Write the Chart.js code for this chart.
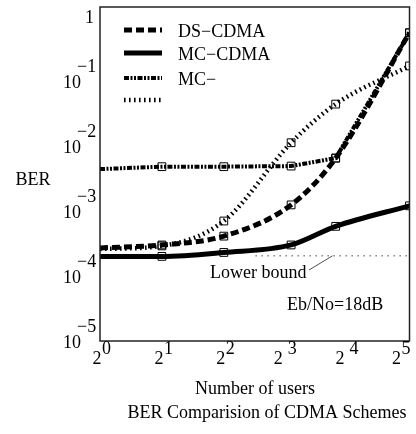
<!DOCTYPE html>
<html>
<head>
<meta charset="utf-8">
<script src="https://cdn.jsdelivr.net/npm/chart.js@4.4.1/dist/chart.umd.min.js"></script>
<style>
  html, body { margin: 0; padding: 0; background: #fff; }
  #wrap { width: 416px; height: 434px; position: relative; }
</style>
</head>
<body>
<div id="wrap"><canvas id="berChart"></canvas></div>
<script>
// --- Chart data ---
const users = [1, 2, 4, 8.5, 14, 32];
const dsCdma = [2.7e-4, 3.0e-4, 4.1e-4, 1.24e-3, 6.5e-3, 0.55];
const mcCdma = [2.0e-4, 2.0e-4, 2.3e-4, 3.0e-4, 5.8e-4, 1.2e-3];
const mcOther = [4.4e-3, 4.8e-3, 4.8e-3, 4.9e-3, 6.5e-3, 0.55];
const dotted = [2.6e-4, 2.9e-4, 7.0e-4, 1.12e-2, 4.4e-2, 0.17];
const lowerBoundUsers = [5.7, 32];
const lowerBound = [2.04e-4, 2.04e-4];
const seriesNames = ['DS−CDMA', 'MC−CDMA', 'MC−', ''];

const xTickValues = [1, 2, 4, 8, 16, 32];
const xTickBase = ['2', '2', '2', '2 ', '2 ', '2'];
const xTickExp = ['0', '1', '2', '3', '4', '5'];
const yTickValues = [1e-5, 1e-4, 1e-3, 1e-2, 1e-1, 1];
const yTickBase = ['10', '10', '10', '10', '10', '1'];
const yTickExp = ['−5', '−4', '−3', '−2', '−1', ''];

const FONT = '18px "Liberation Serif", "Times New Roman", serif';

function toPoints(xs, ys) {
    return xs.map((x, i) => ({ x, y: ys[i] }));
}

// open square markers on every point except the first
const markers = {
    pointStyle: 'rect',
    pointRadius: [0, 5.5, 5.5, 5.5, 5.5, 5.5],
    pointBorderWidth: 1,
    pointBorderColor: '#000',
    pointBackgroundColor: 'rgba(0,0,0,0)'
};

// frame, tick labels, legend and annotations
const frameAndText = {
    id: 'frameAndText',
    afterDatasetsDraw(chart) {
        const { ctx, chartArea: a, scales: { x, y } } = chart;
        ctx.save();
        ctx.strokeStyle = '#222';
        ctx.lineWidth = 1.5;
        ctx.strokeRect(a.left, a.top, a.right - a.left, a.bottom - a.top);

        ctx.fillStyle = '#000';
        ctx.font = FONT;
        ctx.textBaseline = 'middle';

        // y tick labels: 10 with superscript exponent
        yTickValues.forEach((v, i) => {
            const py = y.getPixelForValue(v);
            ctx.textAlign = 'right';
            if (yTickExp[i]) {
                ctx.fillText(yTickBase[i], 81, py + 2);
                ctx.textAlign = 'left';
                ctx.fillText(yTickExp[i], 77, py - 14);
            } else {
                ctx.fillText(yTickBase[i], 94, py + 2);
            }
        });

        // x tick labels: 2 with superscript exponent, kept inside the canvas
        xTickValues.forEach((v, i) => {
            let px = x.getPixelForValue(v);
            const expEnd = px + 2 + ctx.measureText(xTickExp[i]).width;
            if (expEnd > a.right + 1) px -= expEnd - (a.right + 1);
            ctx.textAlign = 'right';
            ctx.fillText(xTickBase[i], px + 1.5, 359);
            ctx.textAlign = 'left';
            ctx.fillText(xTickExp[i], px + 2, 349);
        });

        // legend inside the plot
        const rows = [30, 53, 78, 100];
        seriesNames.forEach((name, i) => {
            const ds = chart.data.datasets[i];
            ctx.save();
            ctx.strokeStyle = ds.borderColor;
            ctx.lineWidth = ds.borderWidth;
            ctx.setLineDash(ds.borderDash || []);
            ctx.beginPath();
            ctx.moveTo(124, rows[i]);
            ctx.lineTo(162, rows[i]);
            ctx.stroke();
            ctx.restore();
            ctx.textAlign = 'left';
            ctx.fillText(name, 178, rows[i] + 2);
        });

        // lower bound annotation
        ctx.textAlign = 'left';
        ctx.fillText('Lower bound', 210, 273);
        ctx.lineWidth = 0.8;
        ctx.beginPath();
        ctx.moveTo(309, 270);
        ctx.lineTo(x.getPixelForValue(13.5), y.getPixelForValue(lowerBound[0]));
        ctx.stroke();
        ctx.fillText('Eb/No=18dB', 287, 305);

        // axis titles
        ctx.textAlign = 'center';
        ctx.fillText('BER', 33, 180);
        ctx.fillText('Number of users', 255, 389);
        ctx.fillText('BER Comparision of CDMA Schemes', 267, 413);
        ctx.restore();
    }
};

new Chart(document.getElementById('berChart'), {
    type: 'line',
    data: {
        datasets: [
            {
                label: seriesNames[0],
                data: toPoints(users, dsCdma),
                borderColor: '#000',
                borderWidth: 5,
                borderDash: [8, 4],
                cubicInterpolationMode: 'monotone',
                ...markers
            },
            {
                label: seriesNames[1],
                data: toPoints(users, mcCdma),
                borderColor: '#000',
                borderWidth: 5,
                cubicInterpolationMode: 'monotone',
                ...markers
            },
            {
                label: seriesNames[2],
                data: toPoints(users, mcOther),
                borderColor: '#000',
                borderWidth: 4,
                borderDash: [5, 1.5, 2, 1.5, 2, 1.5],
                ...markers
            },
            {
                label: 'dotted',
                data: toPoints(users, dotted),
                borderColor: '#000',
                borderWidth: 4.5,
                borderDash: [1.6, 3.4],
                cubicInterpolationMode: 'monotone',
                ...markers
            },
            {
                label: 'Lower bound',
                data: toPoints(lowerBoundUsers, lowerBound),
                borderColor: '#444',
                borderWidth: 1,
                borderDash: [1.5, 4.5],
                pointRadius: 0
            }
        ]
    },
    options: {
        responsive: true,
        maintainAspectRatio: false,
        animation: false,
        layout: { padding: { top: 7, right: 5, left: 0, bottom: 0 } },
        plugins: {
            legend: { display: false },
            tooltip: { enabled: false }
        },
        scales: {
            x: {
                type: 'logarithmic',
                min: 1,
                max: 32,
                ticks: { display: false },
                grid: { display: false },
                border: { display: false },
                afterFit: s => { s.height = 93; }
            },
            y: {
                type: 'logarithmic',
                min: 1e-5,
                max: 1.37,
                ticks: { display: false },
                grid: { display: false },
                border: { display: false },
                afterFit: s => { s.width = 100; }
            }
        }
    },
    plugins: [frameAndText]
});
</script>
</body>
</html>
